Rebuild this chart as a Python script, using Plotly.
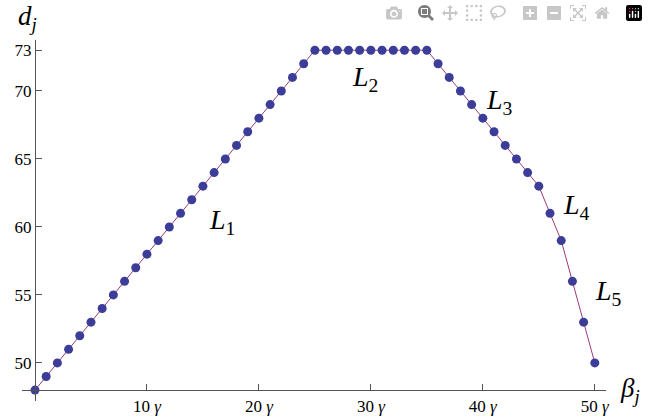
import plotly.graph_objects as go

# data
beta = list(range(51))
d = [48, 49, 50, 51, 52, 53, 54, 55, 56, 57, 58, 59, 60, 61, 62, 63, 64, 65, 66, 67,
     68, 69, 70, 71, 72, 73, 73, 73, 73, 73, 73, 73, 73, 73, 73, 73,
     72, 71, 70, 69, 68, 67, 66, 65, 64, 63, 61, 59, 56, 53, 50]
xtick_vals = [10, 20, 30, 40, 50]
xtick_text = ['10 <i>γ</i>', '20 <i>γ</i>', '30 <i>γ</i>', '40 <i>γ</i>', '50 <i>γ</i>']
ytick_vals = [50, 55, 60, 65, 70, 73]
seg_labels = ['1', '2', '3', '4', '5']
seg_x = [16.7, 29.5, 41.5, 48.4, 51.2]
seg_y = [60.4, 70.9, 69.2, 61.5, 55.2]

XR = [-1.16, 51.0]
YR = [47.2, 73.75]
x0_frac = (0 - XR[0]) / (XR[1] - XR[0])    # where x = 0 sits
y0_frac = (48 - YR[0]) / (YR[1] - YR[0])   # where d = 48 sits
serif = 'Liberation Serif'
axis_col = '#555555'

fig = go.Figure()
fig.add_trace(go.Scatter(x=beta, y=d, mode='lines+markers',
                         line=dict(color='#9b3a78', width=1),
                         marker=dict(size=9, color='#3c3c99')))

# segment labels (paper x so the last one may sit past the x range)
for t, x, y in zip(seg_labels, seg_x, seg_y):
    fig.add_annotation(xref='paper', x=(x - XR[0]) / (XR[1] - XR[0]), y=y,
                       xanchor='center', yanchor='middle',
                       text='<i>L</i><sub>%s</sub>' % t, showarrow=False,
                       font=dict(family=serif, size=28, color='black'))

# axis names
fig.add_annotation(xref='paper', yref='paper', x=0.0, xshift=5, y=1.0, yshift=22,
                   xanchor='center', yanchor='middle',
                   text='<i>d</i><sub><i>j</i></sub>', showarrow=False,
                   font=dict(family=serif, size=27, color='black'))
fig.add_annotation(xref='paper', yref='paper', x=1.0, xshift=24, y=y0_frac, yshift=0,
                   xanchor='center', yanchor='middle',
                   text='<i>β</i><sub><i>j</i></sub>', showarrow=False,
                   font=dict(family=serif, size=27, color='black'))

axis_font = dict(family=serif, size=17, color='black')
fig.update_layout(
    width=648, height=420,
    margin=dict(l=22, r=42, t=40, b=19),
    plot_bgcolor='white', paper_bgcolor='white', showlegend=False,
    font=dict(family=serif, size=17, color='black'),
    xaxis=dict(range=XR, showgrid=False, zeroline=False, showline=True,
               linecolor=axis_col, linewidth=1.3, ticks='inside', ticklen=6,
               tickwidth=1.3, tickcolor=axis_col, tickvals=xtick_vals,
               ticktext=xtick_text, tickfont=axis_font,
               anchor='free', position=y0_frac, automargin=False),
    yaxis=dict(range=YR, showgrid=False, zeroline=False, showline=True,
               linecolor=axis_col, linewidth=1.3, ticks='inside', ticklen=6,
               tickwidth=1.3, tickcolor=axis_col, tickvals=ytick_vals,
               tickfont=axis_font, anchor='free', position=x0_frac,
               automargin=False),
)

fig.write_html('out.html', post_script="document.body.style.margin='0';")
